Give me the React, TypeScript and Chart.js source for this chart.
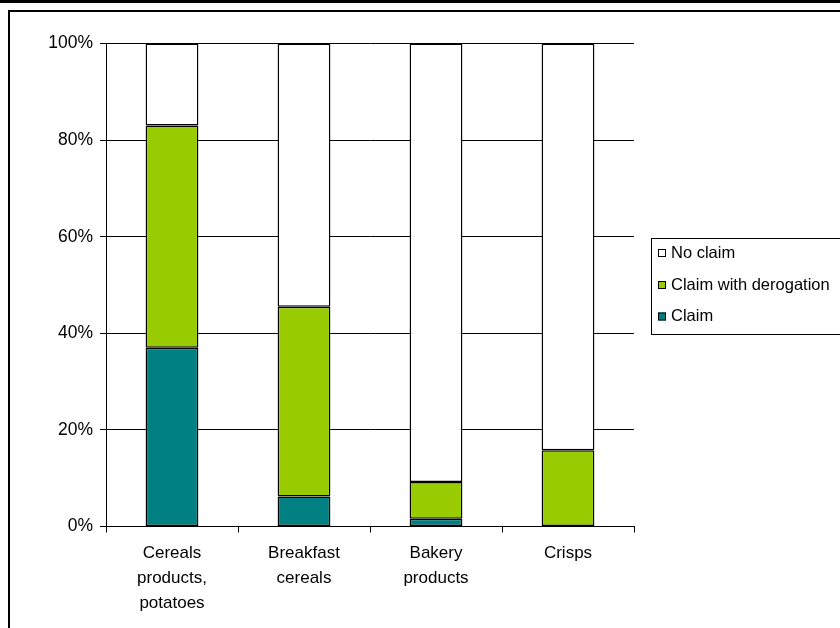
import React, { useEffect, useRef } from "react";
import { Chart, registerables } from "chart.js";

Chart.register(...registerables);

const categories: (string | string[])[] = [
  ["Cereals", "products,", "potatoes"],
  ["Breakfast", "cereals"],
  ["Bakery", "products"],
  ["Crisps"],
];
const claim = [37, 6.2, 1.6, 0];
const claimWithDerogation = [46, 39.3, 7.6, 15.8];
const noClaim = [17, 54.5, 90.8, 84.2];
const yTicks = [0, 20, 40, 60, 80, 100];

const seriesNames = ["No claim", "Claim with derogation", "Claim"];
const seriesColors = ["#FFFFFF", "#99CC00", "#008080"];

const FONT = "'Liberation Sans', Arial, sans-serif";

export default function App() {
  const ref = useRef<HTMLCanvasElement | null>(null);
  useEffect(() => {
    document.body.style.margin = "0";
    const canvas = ref.current!;
    const decor = {
      id: "decor",
      afterDraw(chart: any) {
        const ctx = chart.ctx as CanvasRenderingContext2D;
        ctx.save();
        ctx.fillStyle = "#000";
        ctx.fillRect(0, 0, 840, 3);
        ctx.strokeStyle = "#000";
        ctx.lineWidth = 2;
        ctx.strokeRect(9, 11, 900, 700);
        // legend
        ctx.lineWidth = 1;
        ctx.strokeRect(651.5, 238.5, 300, 96);
        ctx.font = `16.5px ${FONT}`;
        ctx.textBaseline = "middle";
        const ys = [253, 285, 316.5];
        seriesNames.forEach((name, i) => {
          ctx.fillStyle = seriesColors[i];
          ctx.fillRect(658, ys[i] - 4, 8, 8);
          ctx.strokeStyle = "#000";
          ctx.strokeRect(658.5, ys[i] - 3.5, 7, 7);
          ctx.fillStyle = "#000";
          ctx.fillText(name, 671, ys[i]);
        });
        ctx.restore();
      },
    };
    const chart = new Chart(canvas, {
      type: "bar",
      data: {
        labels: categories,
        datasets: [
          { label: "Claim", data: claim, backgroundColor: "#008080" },
          { label: "Claim with derogation", data: claimWithDerogation, backgroundColor: "#99CC00" },
          { label: "No claim", data: noClaim, backgroundColor: "#FFFFFF" },
        ].map((d) => ({
          ...d,
          borderColor: "#000",
          borderWidth: 1.5,
          borderSkipped: false,
          categoryPercentage: 1,
          barPercentage: 0.4,
        })),
      },
      options: {
        responsive: false,
        animation: false,
        layout: { padding: { left: 0, top: 43.5, right: 206, bottom: 0 } },
        plugins: { legend: { display: false }, tooltip: { enabled: false } },
        scales: {
          x: {
            stacked: true,
            offset: true,
            grid: {
              offset: true,
              drawOnChartArea: false,
              drawTicks: true,
              tickLength: 6,
              color: "#000",
            },
            border: { display: true, color: "#000", width: 1 },
            ticks: {
              color: "#000",
              font: { family: FONT, size: 17, lineHeight: 1.47 },
              padding: 8,
              maxRotation: 0,
              autoSkip: false,
            },
            afterFit: (s: any) => {
              s.height = 101.5;
            },
          },
          y: {
            stacked: true,
            min: 0,
            max: 100,
            afterBuildTicks: (s: any) => {
              s.ticks = yTicks.map((v) => ({ value: v }));
            },
            grid: { color: "#000", lineWidth: 1, tickLength: 6 },
            border: { display: true, color: "#000", width: 1 },
            ticks: {
              color: "#000",
              font: { family: FONT, size: 17.5 },
              padding: 7,
              callback: (v: any) => v + "%",
            },
            afterFit: (s: any) => {
              s.width = 106;
            },
          },
        },
      },
      plugins: [decor],
    });
    return () => chart.destroy();
  }, []);
  return <canvas ref={ref} width={840} height={628} style={{ display: "block" }} />;
}
